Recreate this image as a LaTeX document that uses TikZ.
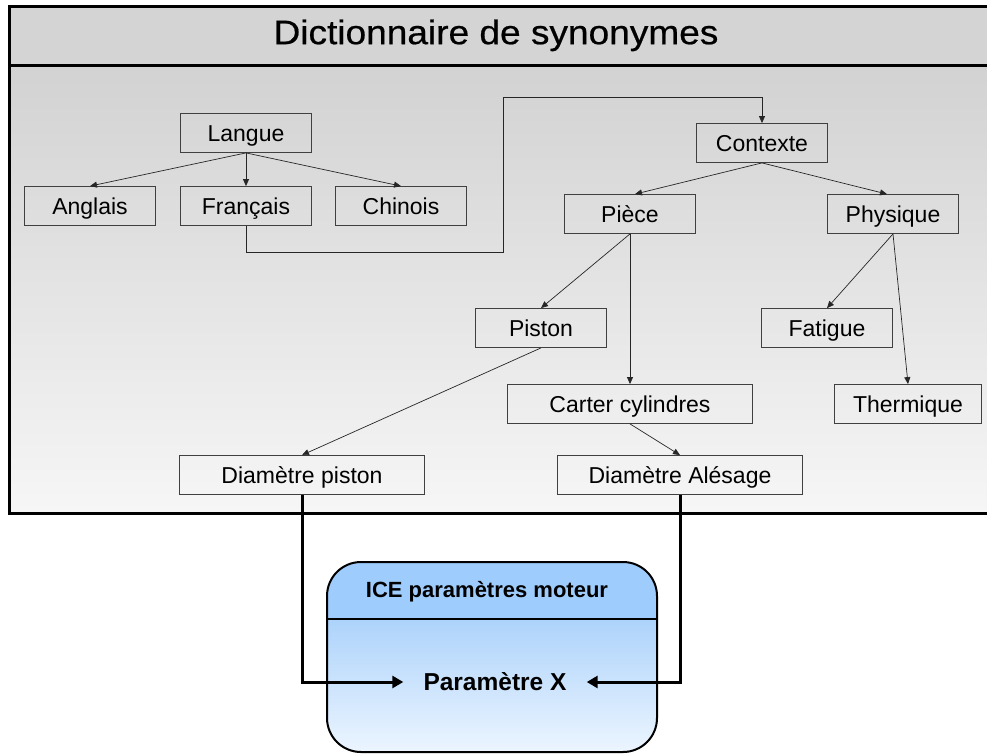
\documentclass[tikz,border=0pt]{standalone}
\usepackage{fontspec}
\setmainfont{Liberation Sans}
\newfontfamily\titlefont[FakeStretch=1.09, FakeBold=0.6]{Liberation Sans}
\usetikzlibrary{arrows.meta}
\definecolor{bandgray}{HTML}{D4D4D4}
\definecolor{bodytop}{HTML}{D2D2D2}
\definecolor{bodybot}{HTML}{F6F6F6}
\definecolor{boxline}{HTML}{404040}
\definecolor{iceHead}{HTML}{9ECDFD}
\definecolor{iceTop}{HTML}{ADD3FB}
\definecolor{iceBot}{HTML}{ECF5FF}
\tikzset{
  kbox/.style={draw=boxline, line width=0.8pt, minimum width=131pt, minimum height=39pt, inner sep=0pt,
    font=\fontsize{23}{27}\selectfont, text height=16.5pt, text depth=0pt},
  wbox/.style={kbox, minimum width=245pt},
  arr/.style={draw=black!85, line width=0.7pt, -{Triangle[length=7pt,width=6pt]}},
  bigarr/.style={draw=black, line width=3pt, -{Triangle[length=11pt,width=12pt]}},
}
\begin{document}
\begin{tikzpicture}[x=1pt,y=-1pt]
\useasboundingbox (0,0) rectangle (987,755);
% dictionary frame
\shade[top color=bodytop, bottom color=bodybot] (9,65) rectangle (1000,513);
\fill[bandgray] (9,6) rectangle (1000,65);
\draw[line width=3pt] (9,6) rectangle (1000,513);
\draw[line width=3pt] (9,65) -- (1000,65);
\node[font=\titlefont\fontsize{34}{40}\selectfont, text height=24.3pt, text depth=0pt, inner sep=0pt] (title) at (496,32) {Dictionnaire de synonymes};
% boxes
\node[kbox] (lang) at (246,133) {Langue};
\node[kbox] (ang) at (90,206) {Anglais};
\node[kbox] (fr) at (246,206) {Français};
\node[kbox] (chi) at (401,206) {Chinois};
\node[kbox] (ctx) at (762,143) {Contexte};
\node[kbox] (piece) at (630,214) {Pièce};
\node[kbox] (phys) at (893,214) {Physique};
\node[kbox] (pist) at (541,328) {Piston};
\node[kbox] (fat) at (827,328) {Fatigue};
\node[wbox] (cart) at (630,404) {Carter cylindres};
\node[kbox, minimum width=147pt] (therm) at (908,404) {Thermique};
\node[wbox] (dp) at (302,475) {Diamètre piston};
\node[wbox] (da) at (680,475) {Diamètre Alésage};
% connectors
\draw[arr] (lang.south) -- (ang.north);
\draw[arr] (lang.south) -- (fr.north);
\draw[arr] (lang.south) -- (chi.north);
\coordinate (k1) at (503,252);
\coordinate (k2) at (503,97);
\draw[arr] (fr.south) |- (k1) -- (k2) -| (ctx.north);
\draw[arr] (ctx.south) -- ([xshift=5pt]piece.north);
\draw[arr] (ctx.south) -- ([xshift=-6pt]phys.north);
\draw[arr] (piece.south) -- (pist.north);
\draw[arr] (piece.south) -- (cart.north);
\draw[arr] (pist.south) -- (dp.north);
\draw[arr] (cart.south) -- (da.north);
\draw[arr] (phys.south) -- (fat.north);
\draw[arr] (phys.south) -- (therm.north);
% ICE box
\begin{scope}
\clip[rounded corners=34pt] (327,562) rectangle (657,752);
\fill[iceHead] (327,562) rectangle (657,619);
\shade[top color=iceTop, bottom color=iceBot] (327,619) rectangle (657,752);
\end{scope}
\draw[line width=2pt, rounded corners=34pt] (327,562) rectangle (657,752);
\draw[line width=1.2pt] (327,619) -- (657,619);
\node[font=\bfseries\fontsize{22}{26}\selectfont, text height=15.7pt, text depth=0pt, inner sep=0pt] (ice) at (487,590) {ICE paramètres moteur};
\node[font=\bfseries\fontsize{24.5}{30}\selectfont, text height=17.5pt, text depth=0pt, inner xsep=20pt, inner ysep=0pt] (px) at (495,682) {Paramètre X};
\draw[bigarr] (dp.south) |- (px.west);
\draw[bigarr] (da.south) |- (px.east);
\end{tikzpicture}
\end{document}
